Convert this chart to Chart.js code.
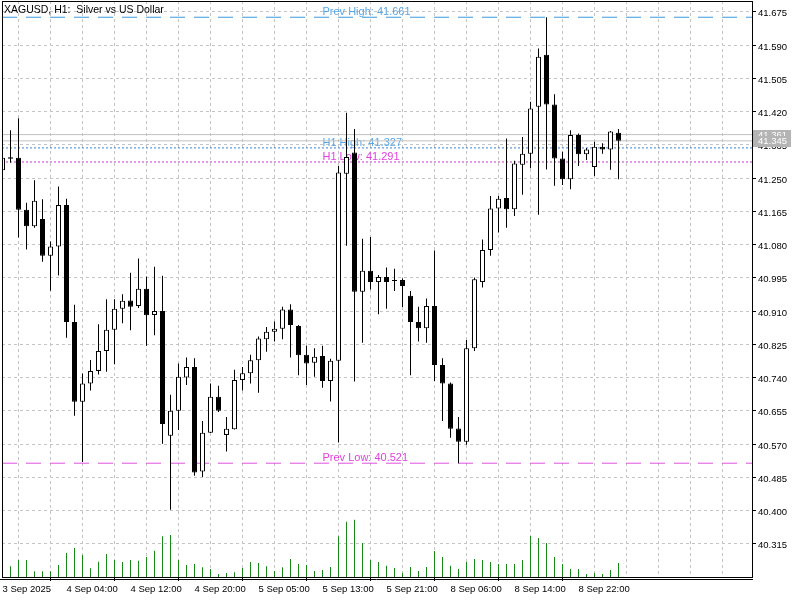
<!DOCTYPE html>
<html>
<head>
<meta charset="utf-8">
<script src="https://cdn.jsdelivr.net/npm/chart.js@4.4.1/dist/chart.umd.min.js"></script>
<style>
    html, body { margin: 0; padding: 0; background: #ffffff; }
</style>
</head>
<body>
<canvas id="chart" width="800" height="600"></canvas>
<script>
// XAGUSD H1 candles, one entry per bar (oldest first)
const opens = [
    41.270, 41.303, 41.302, 41.169, 41.127, 41.145, 41.051, 41.075, 41.181, 40.882,
    40.678, 40.725, 40.757, 40.808, 40.862, 40.916, 40.937, 40.923, 40.967, 40.900,
    40.910, 40.591, 40.655, 40.740, 40.767, 40.500, 40.599, 40.691, 40.593, 40.608,
    40.734, 40.751, 40.784, 40.838, 40.857, 40.865, 40.914, 40.872, 40.798, 40.778,
    40.795, 40.731, 40.783, 41.261, 41.315, 40.959, 41.013, 40.984, 40.997, 40.988,
    40.989, 40.949, 40.882, 40.866, 40.923, 40.772, 40.725, 40.610, 40.576, 40.815,
    40.984, 41.066, 41.172, 41.199, 41.170, 41.284, 41.312, 41.432, 41.565, 41.438,
    41.300, 41.247, 41.360, 41.311, 41.278, 41.330, 41.323, 41.366
];
const highs = [
    41.313, 41.372, 41.403, 41.187, 41.244, 41.196, 41.088, 41.228, 41.197, 40.926,
    40.750, 40.785, 40.876, 40.940, 40.940, 40.953, 41.008, 41.044, 40.998, 41.023,
    41.000, 40.696, 40.776, 40.791, 40.789, 40.629, 40.725, 40.719, 40.639, 40.760,
    40.767, 40.798, 40.845, 40.869, 40.883, 40.921, 40.927, 40.874, 40.821, 40.815,
    40.821, 40.788, 41.281, 41.417, 41.375, 41.095, 41.099, 41.002, 41.021, 41.018,
    40.993, 40.961, 40.921, 40.942, 41.065, 40.789, 40.727, 40.639, 40.836, 40.996,
    41.093, 41.204, 41.204, 41.351, 41.294, 41.355, 41.445, 41.581, 41.661, 41.464,
    41.317, 41.372, 41.364, 41.327, 41.343, 41.339, 41.370, 41.375
];
const lows = [
    41.263, 41.289, 41.098, 41.067, 41.123, 41.036, 40.962, 41.001, 40.842, 40.642,
    40.524, 40.707, 40.748, 40.755, 40.774, 40.879, 40.861, 40.918, 40.821, 40.848,
    40.571, 40.402, 40.606, 40.721, 40.489, 40.486, 40.598, 40.652, 40.551, 40.607,
    40.707, 40.725, 40.701, 40.806, 40.832, 40.838, 40.791, 40.746, 40.721, 40.742,
    40.714, 40.679, 40.574, 41.077, 40.730, 40.829, 40.965, 40.902, 40.916, 40.961,
    40.920, 40.746, 40.832, 40.829, 40.731, 40.629, 40.586, 40.521, 40.568, 40.808,
    40.970, 41.051, 41.111, 41.123, 41.153, 41.207, 41.275, 41.156, 41.272, 41.230,
    41.232, 41.221, 41.281, 41.296, 41.255, 41.312, 41.271, 41.247
];
const closes = [
    41.302, 41.299, 41.169, 41.127, 41.192, 41.051, 41.075, 41.181, 40.882, 40.678,
    40.725, 40.757, 40.808, 40.862, 40.916, 40.936, 40.921, 40.967, 40.899, 40.910,
    40.621, 40.655, 40.742, 40.767, 40.497, 40.599, 40.691, 40.655, 40.609, 40.734,
    40.751, 40.784, 40.840, 40.857, 40.865, 40.914, 40.874, 40.797, 40.776, 40.793,
    40.731, 40.783, 41.264, 41.304, 40.959, 41.013, 40.984, 40.997, 40.984, 40.987,
    40.974, 40.882, 40.866, 40.923, 40.772, 40.725, 40.609, 40.576, 40.815, 40.991,
    41.066, 41.172, 41.197, 41.170, 41.287, 41.312, 41.428, 41.560, 41.438, 41.300,
    41.247, 41.360, 41.311, 41.323, 41.330, 41.323, 41.369, 41.345
];
const volumes = [
    1000, 1070, 1700, 1700, 570, 570, 570, 1200, 2400, 2900,
    2200, 870, 1530, 2300, 1700, 1500, 1700, 1630, 2000, 2630,
    4070, 4200, 1700, 1200, 1300, 970, 800, 300, 400, 470,
    900, 1500, 1400, 1070, 600, 970, 1800, 1300, 1200, 600,
    700, 1000, 4070, 5530, 5730, 3400, 1700, 1500, 1130, 900,
    400, 1000, 600, 1000, 2600, 2000, 1130, 800, 1500, 1800,
    1700, 1500, 1300, 1300, 1300, 1700, 4100, 3900, 3400, 2000,
    1300, 800, 800, 300, 400, 300, 700, 1400
];

// time labels, one every 8 bars
const timeLabels = [
    "3 Sep 2025", "4 Sep 04:00", "4 Sep 12:00", "4 Sep 20:00", "5 Sep 05:00",
    "5 Sep 13:00", "5 Sep 21:00", "8 Sep 06:00", "8 Sep 14:00", "8 Sep 22:00"
];
const priceTicks = [
    40.315, 40.400, 40.485, 40.570, 40.655, 40.740, 40.825, 40.910, 40.995,
    41.080, 41.165, 41.250, 41.335, 41.420, 41.505, 41.590, 41.675
];

// horizontal levels
const levelNames = ["Prev High", "H1 High", "H1 Low", "Prev Low"];
const levelValues = [41.661, 41.327, 41.291, 40.521];
const bidAsk = [41.361, 41.345];

const title = "XAGUSD, H1:  Silver vs US Dollar";

// styles (kept apart from the data)
const FONT = '"Liberation Sans", Arial, sans-serif';
const levelStyles = [
    { line: "#3a98dc", text: "#56a7e8", dash: [15, 9] },
    { line: "#3a82d8", text: "#56a7e8", dash: [2, 2] },
    { line: "#c838c8", text: "#e040e0", dash: [2, 2] },
    { line: "#e050e0", text: "#e040e0", dash: [15, 9] },
];
const X_MIN = -0.0625;
const X_MAX = 93.6875;
const LABEL_BAR = 40;   // bar where the level texts start
const GRID_STEP = 4;
const LABEL_STEP = 8;

Chart.defaults.font.family = FONT;
Chart.defaults.font.size = 9.5;
Chart.defaults.color = "#000";

const ctx = document.getElementById("chart").getContext("2d");

// level lines as line datasets
const levelSets = levelValues.map((v, k) => ({
    type: "line",
    data: [{ x: X_MIN, y: v }, { x: X_MAX, y: v }],
    borderColor: levelStyles[k].line,
    borderWidth: 1,
    borderDash: levelStyles[k].dash,
    pointRadius: 0,
    order: 5,
}));
const bidAskSets = bidAsk.map(v => ({
    type: "line",
    data: [{ x: X_MIN, y: v }, { x: X_MAX, y: v }],
    borderColor: "#c0c0c0",
    borderWidth: 1,
    pointRadius: 0,
    order: 5,
}));

// draws texts, frame, title and price tags
const overlay = {
    id: "overlay",
    beforeDatasetsDraw(chart) {
        const { ctx, scales: { x, y } } = chart;
        ctx.save();
        ctx.font = "11px " + FONT;
        ctx.textAlign = "left";
        ctx.textBaseline = "alphabetic";
        levelNames.forEach((name, k) => {
            ctx.fillStyle = levelStyles[k].text;
            ctx.fillText(name + ": " + levelValues[k].toFixed(3),
                x.getPixelForValue(LABEL_BAR), y.getPixelForValue(levelValues[k]) - 2);
        });
        ctx.restore();
    },
    afterDraw(chart) {
        const { ctx, chartArea: a, scales: { y } } = chart;
        ctx.save();
        // frame + axis double line
        ctx.strokeStyle = "#000";
        ctx.lineWidth = 1;
        ctx.strokeRect(a.left + 0.5, a.top + 0.5, a.right - a.left, a.bottom - a.top);
        ctx.beginPath();
        ctx.moveTo(0, a.bottom + 2.5);
        ctx.lineTo(a.right + 1, a.bottom + 2.5);
        ctx.stroke();

        // price tags on the right axis
        ctx.font = "9.5px " + FONT;
        ctx.textBaseline = "middle";
        bidAsk.forEach(v => {
            const py = Math.round(y.getPixelForValue(v));
            ctx.fillStyle = "#b4b4b4";
            ctx.fillRect(a.right + 1, py - 5, 38, 11);
            ctx.fillStyle = "#ffffff";
            ctx.fillText(v.toFixed(3), a.right + 6, py + 0.5);
        });

        // title
        ctx.fillStyle = "#000";
        ctx.font = "10.5px " + FONT;
        ctx.textBaseline = "alphabetic";
        ctx.fillText(title, 4, 13);
        ctx.restore();
    }
};

new Chart(ctx, {
    type: "bar",
    data: {
        datasets: [
            {
                label: "Volume",
                yAxisID: "yVol",
                data: volumes.map((v, i) => ({ x: i, y: v })),
                backgroundColor: "#168a16",
                barThickness: 1,
                grouped: false,
                inflateAmount: 0,
                order: 6,
            },
            ...levelSets,
            ...bidAskSets,
            {
                label: "Wicks",
                data: lows.map((l, i) => ({ x: i, y: [l, highs[i]] })),
                backgroundColor: "#000",
                barThickness: 1,
                grouped: false,
                inflateAmount: 0,
                order: 2,
            },
            {
                label: "Bodies",
                data: opens.map((o, i) => ({ x: i, y: [o, closes[i]] })),
                backgroundColor: opens.map((o, i) => closes[i] >= o ? "#ffffff" : "#000000"),
                borderColor: "#000",
                borderWidth: 1,
                borderSkipped: false,
                minBarLength: 1,
                barThickness: 5,
                grouped: false,
                inflateAmount: 0,
                order: 1,
            },
        ],
    },
    options: {
        responsive: false,
        animation: false,
        events: [],
        layout: { padding: { left: 2, top: 1, right: 0, bottom: 0 } },
        plugins: {
            legend: { display: false },
            tooltip: { enabled: false },
        },
        scales: {
            x: {
                type: "linear",
                min: X_MIN,
                max: X_MAX,
                offset: false,
                afterBuildTicks: (scale) => {
                    const t = [];
                    for (let i = 0; i <= 92; i += GRID_STEP) t.push({ value: i });
                    scale.ticks = t;
                },
                afterFit: (scale) => {
                    scale.height = 23;
                    scale.paddingLeft = 0;
                    scale.paddingRight = 0;
                },
                ticks: {
                    autoSkip: false,
                    maxRotation: 0,
                    align: "start",
                    padding: 3,
                    callback: (value) => {
                        const k = value / LABEL_STEP;
                        return Number.isInteger(k) && k < timeLabels.length ? timeLabels[k] : "";
                    },
                },
                grid: {
                    color: "#c4c4c4",
                    tickLength: 4,
                    tickColor: (c) => (c.tick && c.tick.label ? "#000" : "rgba(0,0,0,0)"),
                    tickBorderDash: [],
                },
                border: { display: false, dash: [3, 3] },
            },
            y: {
                position: "right",
                min: 40.2301,
                max: 41.7025,
                afterBuildTicks: (scale) => {
                    scale.ticks = priceTicks.map(v => ({ value: v }));
                },
                afterFit: (scale) => {
                    scale.width = 48;
                    scale.paddingTop = 0;
                    scale.paddingBottom = 0;
                },
                ticks: {
                    padding: 2,
                    labelOffset: 2,
                    callback: (value) => Number(value).toFixed(3),
                },
                grid: {
                    color: "#c4c4c4",
                    tickLength: 4,
                    tickColor: "#000",
                    tickBorderDash: [],
                },
                border: { display: false, dash: [3, 3] },
            },
            yVol: {
                display: false,
                min: 0,
                max: 57600,
            },
        },
    },
    plugins: [overlay],
});
</script>
</body>
</html>
